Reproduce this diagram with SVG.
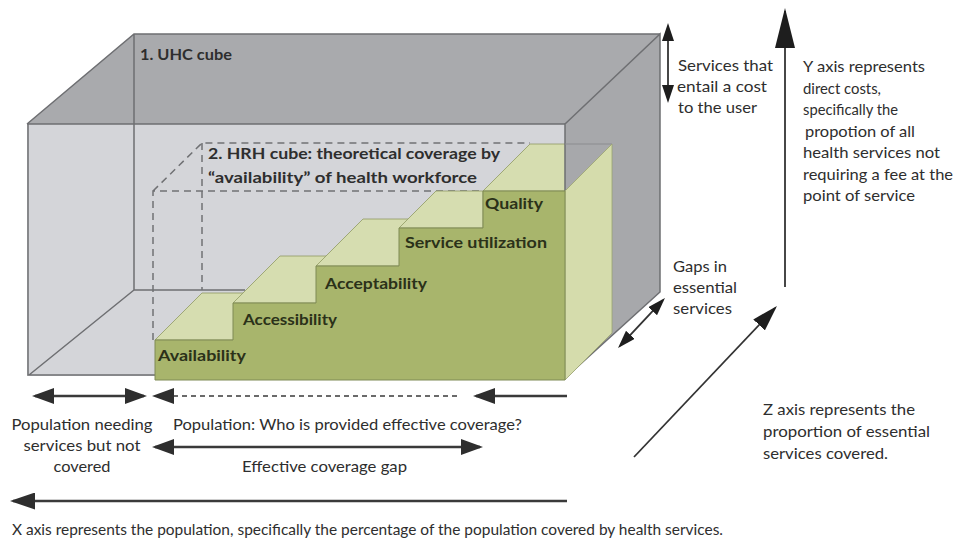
<svg xmlns="http://www.w3.org/2000/svg" width="958" height="540" viewBox="0 0 958 540">
<defs>
<style>
text { font-family: Lato, "Liberation Sans", sans-serif; fill:#2e2e2e; font-size:15px; }
.b { font-weight:bold; }
.g { fill:#2b3119; font-weight:bold; }
.edge { stroke:#6e6f72; stroke-width:1.5; fill:none; }
.dash { stroke:#707174; stroke-width:1.5; fill:none; stroke-dasharray:7 5; }
.top { fill:#d6ddb0; stroke:#8f9a62; stroke-width:0.8; }
.ar { stroke:#3a3a3a; stroke-width:2.5; fill:none; }
.thin { stroke:#333333; stroke-width:1.8; fill:none; }
</style>
<marker id="ah" viewBox="0 0 22 16" refX="19" refY="8" markerWidth="22" markerHeight="16" markerUnits="userSpaceOnUse" orient="auto-start-reverse"><path d="M0,0 L22,8 L0,16 z" fill="#2e2e2e"/></marker>
<marker id="ahL" viewBox="0 0 25 17" refX="22" refY="8.5" markerWidth="25" markerHeight="17" markerUnits="userSpaceOnUse" orient="auto-start-reverse"><path d="M0,0 L25,8.5 L0,17 z" fill="#2e2e2e"/></marker>
<marker id="big" viewBox="0 0 40 20" refX="37" refY="10" markerWidth="40" markerHeight="20" markerUnits="userSpaceOnUse" orient="auto-start-reverse"><path d="M0,0 L40,10 L0,20 z" fill="#1e1e1e"/></marker>
<marker id="mid" viewBox="0 0 26 16" refX="23" refY="8" markerWidth="26" markerHeight="16" markerUnits="userSpaceOnUse" orient="auto-start-reverse"><path d="M0,0 L26,8 L0,16 z" fill="#1e1e1e"/></marker>
<marker id="sm" viewBox="0 0 18 12" refX="15" refY="6" markerWidth="18" markerHeight="12" markerUnits="userSpaceOnUse" orient="auto-start-reverse"><path d="M0,0 L18,6 L0,12 z" fill="#1e1e1e"/></marker>
</defs>
<rect width="958" height="540" fill="#ffffff"/>

<g id="uhc-cube">
<rect x="27" y="124" width="538" height="252" fill="#d4d5d9"/>
<polygon points="27,124 134,34 660,34 565,124" fill="#a9aaad"/>
<path class="edge" d="M27,124 H565 M134,34 V290 M134,290 L29,375 M134,290 H245 M28,124 V375 H155 M27,124 L134,34 H660"/>
<text class="b" x="140" y="60" textLength="92" lengthAdjust="spacingAndGlyphs">1. UHC cube</text>
</g>

<g id="hrh-cube">
<polygon points="153,191 202,143 530,143 483,191" fill="#d4d5d9"/>
<path class="dash" d="M153,340 V191 H483 M153,191 L202,143 H530 M202,143 V290"/>
<text class="b" x="208" y="159" textLength="292" lengthAdjust="spacingAndGlyphs">2. HRH cube: theoretical coverage by</text>
<text class="b" x="208" y="183" textLength="269" lengthAdjust="spacingAndGlyphs">“availability” of health workforce</text>
</g>

<g id="steps">
<polygon class="top" points="155,340 202,293 280,293 233,340"/>
<polygon class="top" points="233,303 280,256 363,256 316,303"/>
<polygon class="top" points="316,266 363,219 446,219 399,266"/>
<polygon class="top" points="399,228 436,191 483,191 483,228"/>
<polygon class="top" points="483,191 530,144 612,144 565,191"/>
</g>

<g id="uhc-right-face">
<polygon points="565,124 660,34 660,292 565,378" fill="#a7a8ab" stroke="#6e6f72" stroke-width="1.5"/>
<line x1="565" y1="144" x2="612" y2="144" stroke="#8b8c8f" stroke-width="1"/>
</g>

<g id="hrh-box">
<polygon points="565,191 612,144 612,333 565,380" fill="#d5dcac" stroke="#9aa370" stroke-width="0.8"/>
<polygon points="155,380 155,340 233,340 233,303 316,303 316,266 399,266 399,228 483,228 483,191 565,191 565,380" fill="#a8b56c" stroke="#7f8a55" stroke-width="1"/>
</g>

<g id="step-availability"><text class="g" x="158" y="361" textLength="88" lengthAdjust="spacingAndGlyphs">Availability</text></g>
<g id="step-accessibility"><text class="g" x="243" y="325" textLength="94" lengthAdjust="spacingAndGlyphs">Accessibility</text></g>
<g id="step-acceptability"><text class="g" x="325" y="289" textLength="102" lengthAdjust="spacingAndGlyphs">Acceptability</text></g>
<g id="step-utilization"><text class="g" x="405" y="248" textLength="142" lengthAdjust="spacingAndGlyphs">Service utilization</text></g>
<g id="step-quality"><text class="g" x="485" y="209" textLength="58" lengthAdjust="spacingAndGlyphs">Quality</text></g>

<g id="connectors">
<line class="thin" x1="668" y1="26" x2="668" y2="100" stroke-width="2" marker-start="url(#sm)" marker-end="url(#sm)"/>
<line class="thin" x1="785" y1="287" x2="785" y2="11" stroke-width="2" marker-end="url(#big)"/>
<line class="thin" x1="620.1" y1="345.8" x2="662.9" y2="300.2" stroke-width="2" marker-start="url(#sm)" marker-end="url(#sm)"/>
<line class="thin" x1="634" y1="457" x2="774.9" y2="308.2" stroke-width="2" marker-end="url(#mid)"/>
<line class="ar" x1="35" y1="396" x2="144" y2="396" marker-start="url(#ah)" marker-end="url(#ah)"/>
<line x1="155" y1="396" x2="457" y2="396" stroke="#3a3a3a" stroke-width="1.5" stroke-dasharray="5 4" marker-start="url(#ah)"/>
<line class="ar" x1="567" y1="396" x2="476" y2="396" marker-end="url(#ah)"/>
<line class="ar" x1="155" y1="447" x2="480" y2="447" marker-start="url(#ah)" marker-end="url(#ah)"/>
<line class="ar" x1="567" y1="501" x2="13" y2="501" marker-end="url(#ahL)"/>
</g>

<g id="label-services-cost">
<text x="678" y="71" textLength="95" lengthAdjust="spacingAndGlyphs">Services that</text>
<text x="677" y="92" textLength="90" lengthAdjust="spacingAndGlyphs">entail a cost</text>
<text x="678" y="113" textLength="79" lengthAdjust="spacingAndGlyphs">to the user</text>
</g>

<g id="label-y-axis">
<text x="803" y="72" textLength="122" lengthAdjust="spacingAndGlyphs">Y axis represents</text>
<text x="803" y="93.5" textLength="78" lengthAdjust="spacingAndGlyphs">direct costs,</text>
<text x="803" y="115" textLength="95" lengthAdjust="spacingAndGlyphs">specifically the</text>
<text x="805" y="136.5" textLength="110" lengthAdjust="spacingAndGlyphs">propotion of all</text>
<text x="803" y="158" textLength="137" lengthAdjust="spacingAndGlyphs">health services not</text>
<text x="803" y="179.5" textLength="150" lengthAdjust="spacingAndGlyphs">requiring a fee at the</text>
<text x="803" y="201" textLength="112" lengthAdjust="spacingAndGlyphs">point of service</text>
</g>

<g id="label-gaps">
<text x="673" y="272" textLength="54" lengthAdjust="spacingAndGlyphs">Gaps in</text>
<text x="673" y="293" textLength="64" lengthAdjust="spacingAndGlyphs">essential</text>
<text x="673" y="314" textLength="59" lengthAdjust="spacingAndGlyphs">services</text>
</g>

<g id="label-z-axis">
<text x="763" y="415" textLength="152" lengthAdjust="spacingAndGlyphs">Z axis represents the</text>
<text x="763" y="437" textLength="167" lengthAdjust="spacingAndGlyphs">proportion of essential</text>
<text x="763" y="459" textLength="125" lengthAdjust="spacingAndGlyphs">services covered.</text>
</g>

<g id="label-not-covered">
<text x="82" y="430" text-anchor="middle" textLength="141" lengthAdjust="spacingAndGlyphs">Population needing</text>
<text x="82" y="451" text-anchor="middle" textLength="117" lengthAdjust="spacingAndGlyphs">services but not</text>
<text x="82" y="472" text-anchor="middle" textLength="57" lengthAdjust="spacingAndGlyphs">covered</text>
</g>

<g id="label-population">
<text x="173" y="430" textLength="349" lengthAdjust="spacingAndGlyphs">Population: Who is provided effective coverage?</text>
</g>

<g id="label-gap">
<text x="242" y="472" textLength="165" lengthAdjust="spacingAndGlyphs">Effective coverage gap</text>
</g>

<g id="label-x-axis">
<text x="12" y="535" font-size="14" textLength="711" lengthAdjust="spacingAndGlyphs">X axis represents the population, specifically the percentage of the population covered by health services.</text>
</g>
</svg>
